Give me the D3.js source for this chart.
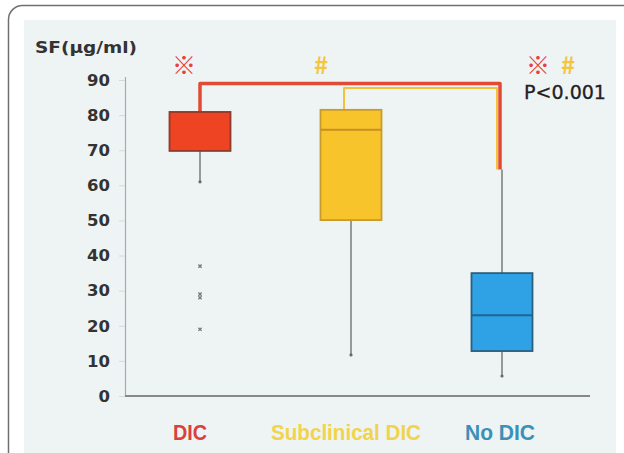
<!DOCTYPE html>
<html>
<head>
<meta charset="utf-8">
<script src="https://cdn.jsdelivr.net/npm/d3@7"></script>
<style>
  html, body { margin: 0; padding: 0; background: #fff; }
  svg { display: block; }
</style>
</head>
<body>
<svg id="chart"></svg>
<script>
// box plot values
var categories = ["DIC", "Subclinical DIC", "No DIC"];
var lowWhisker = [61, 11.7, 5.7];
var q1 = [69.8, 50.1, 12.8];
var median = [null, 75.8, 23];
var q3 = [80.9, 81.5, 35];
var highWhisker = [80.9, 81.5, 64.5];
var outliers = [[37, 29, 28, 19], [], []];
var yTicks = [0, 10, 20, 30, 40, 50, 60, 70, 80, 90];

// significance brackets
var bracketFrom = ["DIC", "Subclinical DIC"];
var bracketTo = ["No DIC", "No DIC"];
var bracketLevel = [89, 87.7];
var markText = ["※", "#", "※", "#"];
var markCategory = ["DIC", "Subclinical DIC", "No DIC", "No DIC"];
var pText = "P<0.001";

// styles
var boxFill = ["#ee4424", "#f8c42c", "#2ea2e4"];
var boxStroke = ["#8e3a2c", "#c79b2e", "#2c5f7e"];
var medianStroke = ["#8e3a2c", "#c98f22", "#1f6592"];
var labelColor = ["#d9403e", "#f1d44c", "#3b90b8"];
var labelShift = [-10, -5, -2];
var labelWidth = [34, 150, 70];
var bracketColor = ["#e24a33", "#f3c23a"];
var bracketWidth = [3.5, 2];
var bracketDx = [[0, -2], [-7, -5]];
var markColor = ["#e8403a", "#f3c640", "#e8403a", "#f3c640"];
var markDx = [-16, -30, 36, 66];

var svgWidth = 624, svgHeight = 453;
var boxWidth = 61;

var svg = d3.select("#chart")
    .attr("width", svgWidth)
    .attr("height", svgHeight);

// frame and photo panel
svg.append("rect")
    .attr("x", 8.5).attr("y", 5.5)
    .attr("width", 660).attr("height", 480)
    .attr("rx", 14)
    .attr("fill", "#fff")
    .attr("stroke", "#707070")
    .attr("stroke-width", 1.5);

svg.append("rect")
    .attr("x", 24).attr("y", 20)
    .attr("width", 592).attr("height", 440)
    .attr("fill", "#eef3f4");

var y = d3.scaleLinear()
    .domain([0, 90])
    .range([396, 80]);

var x = d3.scalePoint()
    .domain(categories)
    .range([200, 502]);

var axisX = 125;

// y axis
var yAxis = svg.append("g")
    .attr("transform", "translate(" + axisX + ",0)")
    .call(d3.axisLeft(y).tickValues(yTicks).tickSizeOuter(0).tickSize(6).tickPadding(9));

yAxis.select(".domain")
    .attr("stroke", "#a8abad")
    .attr("stroke-width", 1.2)
    .attr("d", "M0.5," + (y(90) - 3) + "V" + y(0));
yAxis.selectAll(".tick line").attr("stroke", "#d6d9da");
yAxis.selectAll(".tick text")
    .attr("fill", "#333")
    .attr("font-family", "DejaVu Sans")
    .attr("font-weight", "bold")
    .attr("font-size", "16.5px");

svg.append("text")
    .attr("x", 35)
    .attr("y", 53)
    .attr("fill", "#333")
    .attr("font-family", "DejaVu Sans")
    .attr("font-weight", "bold")
    .attr("font-size", "16px")
    .attr("textLength", 102)
    .attr("lengthAdjust", "spacingAndGlyphs")
    .text("SF(μg/ml)");

// x axis line
svg.append("line")
    .attr("x1", axisX).attr("x2", x("No DIC") + 88)
    .attr("y1", y(0)).attr("y2", y(0))
    .attr("stroke", "#888")
    .attr("stroke-width", 2);

svg.selectAll(".xlabel")
    .data(categories)
    .enter()
    .append("text")
    .attr("class", "xlabel")
    .attr("x", function(d, i) { return x(d) + labelShift[i]; })
    .attr("y", 440)
    .attr("text-anchor", "middle")
    .attr("fill", function(d, i) { return labelColor[i]; })
    .attr("font-family", "Liberation Sans")
    .attr("font-weight", "bold")
    .attr("font-size", "22px")
    .attr("textLength", function(d, i) { return labelWidth[i]; })
    .attr("lengthAdjust", "spacingAndGlyphs")
    .text(function(d) { return d; });

// brackets (yellow first so the red sits on top)
var line = d3.line()
    .x(function(d) { return d[0]; })
    .y(function(d) { return d[1]; });

[1, 0].forEach(function(k) {
    var i0 = categories.indexOf(bracketFrom[k]);
    var i1 = categories.indexOf(bracketTo[k]);
    var pts = [
        [x(bracketFrom[k]) + bracketDx[k][0], y(q3[i0])],
        [x(bracketFrom[k]) + bracketDx[k][0], y(bracketLevel[k])],
        [x(bracketTo[k]) + bracketDx[k][1], y(bracketLevel[k])],
        [x(bracketTo[k]) + bracketDx[k][1], y(highWhisker[i1])]
    ];
    svg.append("path")
        .attr("d", line(pts))
        .attr("fill", "none")
        .attr("stroke", bracketColor[k])
        .attr("stroke-width", bracketWidth[k])
        .attr("stroke-linejoin", "round");
});

// whiskers
var boxes = svg.selectAll(".box")
    .data(categories)
    .enter()
    .append("g")
    .attr("class", "box");

boxes.append("line")
    .attr("x1", function(d) { return x(d); })
    .attr("x2", function(d) { return x(d); })
    .attr("y1", function(d, i) { return y(lowWhisker[i]); })
    .attr("y2", function(d, i) { return y(q1[i]); })
    .attr("stroke", "#7a7a7a")
    .attr("stroke-width", 1.5);

boxes.append("line")
    .attr("x1", function(d) { return x(d); })
    .attr("x2", function(d) { return x(d); })
    .attr("y1", function(d, i) { return y(q3[i]); })
    .attr("y2", function(d, i) { return y(highWhisker[i]); })
    .attr("stroke", "#7a7a7a")
    .attr("stroke-width", 1.5);

boxes.append("circle")
    .attr("cx", function(d) { return x(d); })
    .attr("cy", function(d, i) { return y(lowWhisker[i]); })
    .attr("r", 1.6)
    .attr("fill", "#6a6a6a");

boxes.append("rect")
    .attr("x", function(d) { return x(d) - boxWidth / 2; })
    .attr("y", function(d, i) { return y(q3[i]); })
    .attr("width", boxWidth)
    .attr("height", function(d, i) { return y(q1[i]) - y(q3[i]); })
    .attr("fill", function(d, i) { return boxFill[i]; })
    .attr("stroke", function(d, i) { return boxStroke[i]; })
    .attr("stroke-width", 1.8);

boxes.filter(function(d, i) { return median[i] != null; })
    .append("line")
    .attr("x1", function(d) { return x(d) - boxWidth / 2; })
    .attr("x2", function(d) { return x(d) + boxWidth / 2; })
    .attr("y1", function(d) { return y(median[categories.indexOf(d)]); })
    .attr("y2", function(d) { return y(median[categories.indexOf(d)]); })
    .attr("stroke", function(d) { return medianStroke[categories.indexOf(d)]; })
    .attr("stroke-width", 2);

// outliers as small crosses
var outlierData = [];
categories.forEach(function(c, i) {
    outliers[i].forEach(function(v) { outlierData.push({ cat: c, value: v }); });
});

svg.selectAll(".outlier")
    .data(outlierData)
    .enter()
    .append("path")
    .attr("class", "outlier")
    .attr("d", function(d) {
        var cx = x(d.cat), cy = y(d.value), s = 1.6;
        return "M" + (cx - s) + "," + (cy - s) + "L" + (cx + s) + "," + (cy + s) +
               "M" + (cx - s) + "," + (cy + s) + "L" + (cx + s) + "," + (cy - s);
    })
    .attr("stroke", "#777")
    .attr("stroke-width", 1.3);

// significance marks
svg.selectAll(".mark")
    .data(markText)
    .enter()
    .append("text")
    .attr("class", "mark")
    .attr("x", function(d, i) { return x(markCategory[i]) + markDx[i]; })
    .attr("y", y(91.6))
    .attr("text-anchor", "middle")
    .attr("fill", function(d, i) { return markColor[i]; })
    .attr("font-family", "Noto Sans CJK JP")
    .attr("font-weight", "bold")
    .attr("font-size", "24px")
    .text(function(d) { return d; });

svg.append("text")
    .attr("x", x("No DIC") + 22)
    .attr("y", y(84.5))
    .attr("fill", "#222")
    .attr("font-family", "DejaVu Sans")
    .attr("font-size", "19px")
    .attr("stroke", "#222")
    .attr("stroke-width", 0.3)
    .attr("textLength", 82)
    .attr("lengthAdjust", "spacingAndGlyphs")
    .text(pText);
</script>
</body>
</html>
